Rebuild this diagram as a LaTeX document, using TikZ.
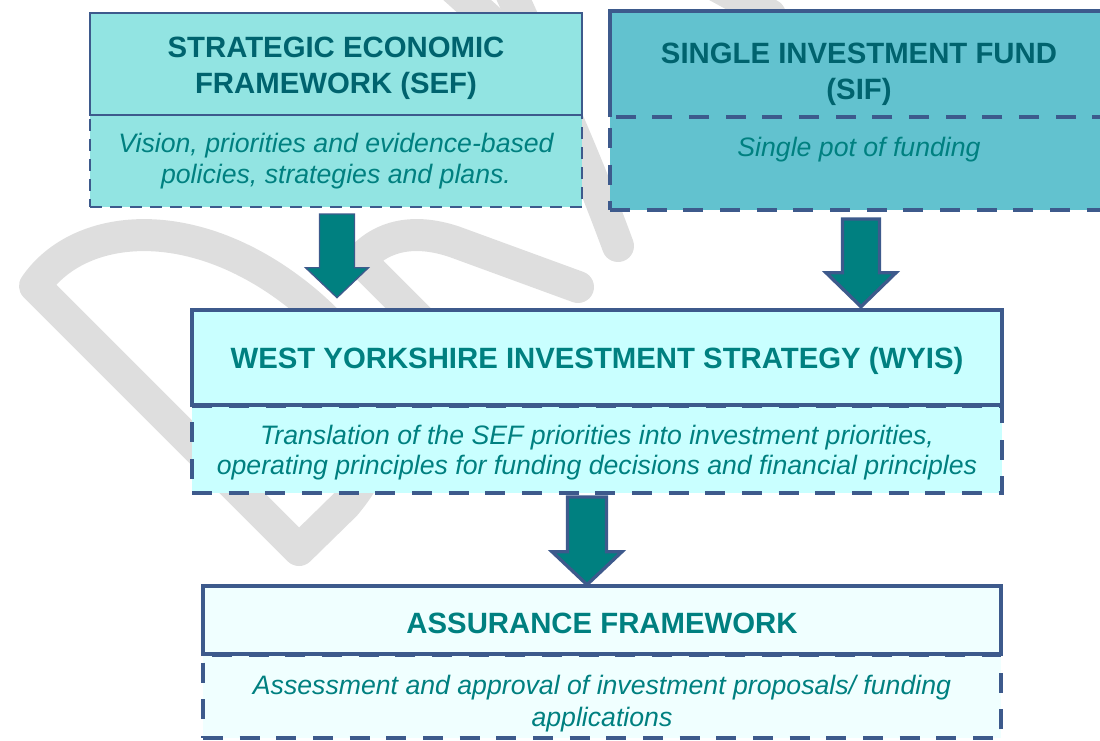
\documentclass[tikz,border=0pt]{standalone}
\usepackage{fontspec}
\setmainfont{Liberation Sans}
\usepackage{xcolor}
\usetikzlibrary{positioning}
\usetikzlibrary{calc}

\definecolor{frameblue}{RGB}{61,90,140}
\definecolor{sefcol}{RGB}{146,228,226}
\definecolor{sifcol}{RGB}{98,194,207}
\definecolor{wyiscol}{RGB}{201,255,255}
\definecolor{afcol}{RGB}{240,255,255}
\definecolor{darkteal}{RGB}{0,99,110}
\definecolor{tealtext}{RGB}{0,128,128}
\definecolor{arrowfill}{RGB}{0,128,128}
\definecolor{draftgray}{RGB}{222,222,222}

% pushes a first line down
\newcommand{\padtop}[1]{\rule{0pt}{#1}}

% block arrow: from, to, half shaft, half head, head length, line width
\newcommand{\downarrowblock}[6]{%
\draw[bigarrow, line width=#6] ($(#1)+(-#3,0)$) -- ($(#2)+(-#3,-#5)$) -- ($(#2)+(-#4,-#5)$) -- (#2) -- ($(#2)+(#4,-#5)$) -- ($(#2)+(#3,-#5)$) -- ($(#1)+(#3,0)$) -- cycle;
}

\tikzset{
headbox/.style={draw=frameblue, inner sep=0pt, outer sep=0pt, align=center, font=\fontsize{22}{26.5}\selectfont\bfseries},
bodybox/.style={draw=frameblue, inner sep=0pt, outer sep=0pt, align=center, text=tealtext, font=\fontsize{20}{23}\selectfont\itshape},
thinframe/.style={line width=1pt},
thickframe/.style={line width=3pt},
thindash/.style={line width=1pt, dash pattern=on 9pt off 6pt},
thickdash/.style={line width=3pt, dash pattern=on 15pt off 12.5pt},
bigarrow/.style={fill=arrowfill, draw=frameblue, line join=miter},
draftmark/.style={draw=draftgray, line width=24pt, line cap=round, line join=round}
}

\begin{document}
\begin{tikzpicture}[x=0.75pt, y=-0.75pt]
\useasboundingbox (0,0) rectangle (1100,740);
\clip (0,0) rectangle (1100,740);

% DRAFT watermark %
{
\draw[draftmark] (299,550) -- (35,286) .. controls (80,220) and (200,210) .. (310,305) .. controls (390,375) and (400,440) .. (345,505) -- cycle;
\draw[draftmark] (430,330) -- (360,260) .. controls (385,232) and (420,230) .. (455,242) -- (578,287);
\draw[draftmark] (505,-20) .. controls (560,100) and (590,170) .. (618,246);
\draw[draftmark] (445,-20) -- (495,25);
\draw[draftmark] (715,-15) -- (770,15);
}

% top row %
{
\node[bodybox, thindash, fill=sefcol, minimum width=369pt, minimum height=69pt] (sefbody) at (336,161)
{Vision, priorities and evidence-based\\policies, strategies and plans.};
\node[headbox, thinframe, fill=sefcol, text=darkteal, minimum width=369pt, minimum height=76.5pt, above=0pt of sefbody] (sefhead)
{\padtop{22pt}STRATEGIC ECONOMIC\\FRAMEWORK (SEF)};

% SIF: open bottom, the dashed line of the body is the divider
\node[headbox, draw=none, fill=sifcol, text=darkteal, minimum width=373.5pt, minimum height=79.5pt] (sifhead) at (859,64)
{\padtop{31pt}SINGLE INVESTMENT FUND\\(SIF)};
\node[bodybox, thickdash, fill=sifcol, minimum width=373.5pt, minimum height=69.75pt, text height=29.25pt, text depth=40.5pt, below=0pt of sifhead] (sifbody)
{Single pot of funding};
\draw[frameblue, thickframe] (sifhead.south west) -- (sifhead.north west) -- (sifhead.north east) -- (sifhead.south east);
}

% middle %
{
\node[bodybox, thickdash, fill=wyiscol, minimum width=607.5pt, minimum height=65.25pt] (wyisbody) at (597,449.5)
{\padtop{19pt}Translation of the SEF priorities into investment priorities,\\operating principles for funding decisions and financial principles};
\node[headbox, thickframe, fill=wyiscol, text=tealtext, minimum width=607.5pt, minimum height=71.25pt, above=1pt of wyisbody] (wyishead)
{\padtop{22pt}WEST YORKSHIRE INVESTMENT STRATEGY (WYIS)};
}

% bottom %
{
\node[bodybox, thickdash, fill=afcol, minimum width=598.5pt, minimum height=62.25pt, font=\fontsize{20}{24}\selectfont\itshape] (afbody) at (602,696.5)
{\padtop{24.6pt}Assessment and approval of investment proposals/ funding\\applications};
\node[headbox, thickframe, fill=afcol, text=tealtext, minimum width=598.5pt, minimum height=51pt, above=1pt of afbody] (afhead)
{\padtop{20.5pt}ASSURANCE FRAMEWORK};
}

% arrows %
{
\coordinate (sefout) at ($(sefbody.south)+(1,7)$);
\coordinate (wyisin1) at ($(wyishead.north)+(-260,-12)$);
\coordinate (sifout) at ($(sifbody.south)+(2,9)$);
\coordinate (wyisin2) at ($(wyishead.north)+(264,-3)$);
\coordinate (wyisout) at ($(wyisbody.south)+(-10,4)$);
\coordinate (afin) at ($(afhead.north)+(-15,-1)$);

\downarrowblock{sefout}{wyisin1}{17.5}{31.5}{30}{1pt}
\downarrowblock{sifout}{wyisin2}{18.5}{35}{34}{2.5pt}
\downarrowblock{wyisout}{afin}{19.5}{35}{33}{2.5pt}
}

\end{tikzpicture}
\end{document}
